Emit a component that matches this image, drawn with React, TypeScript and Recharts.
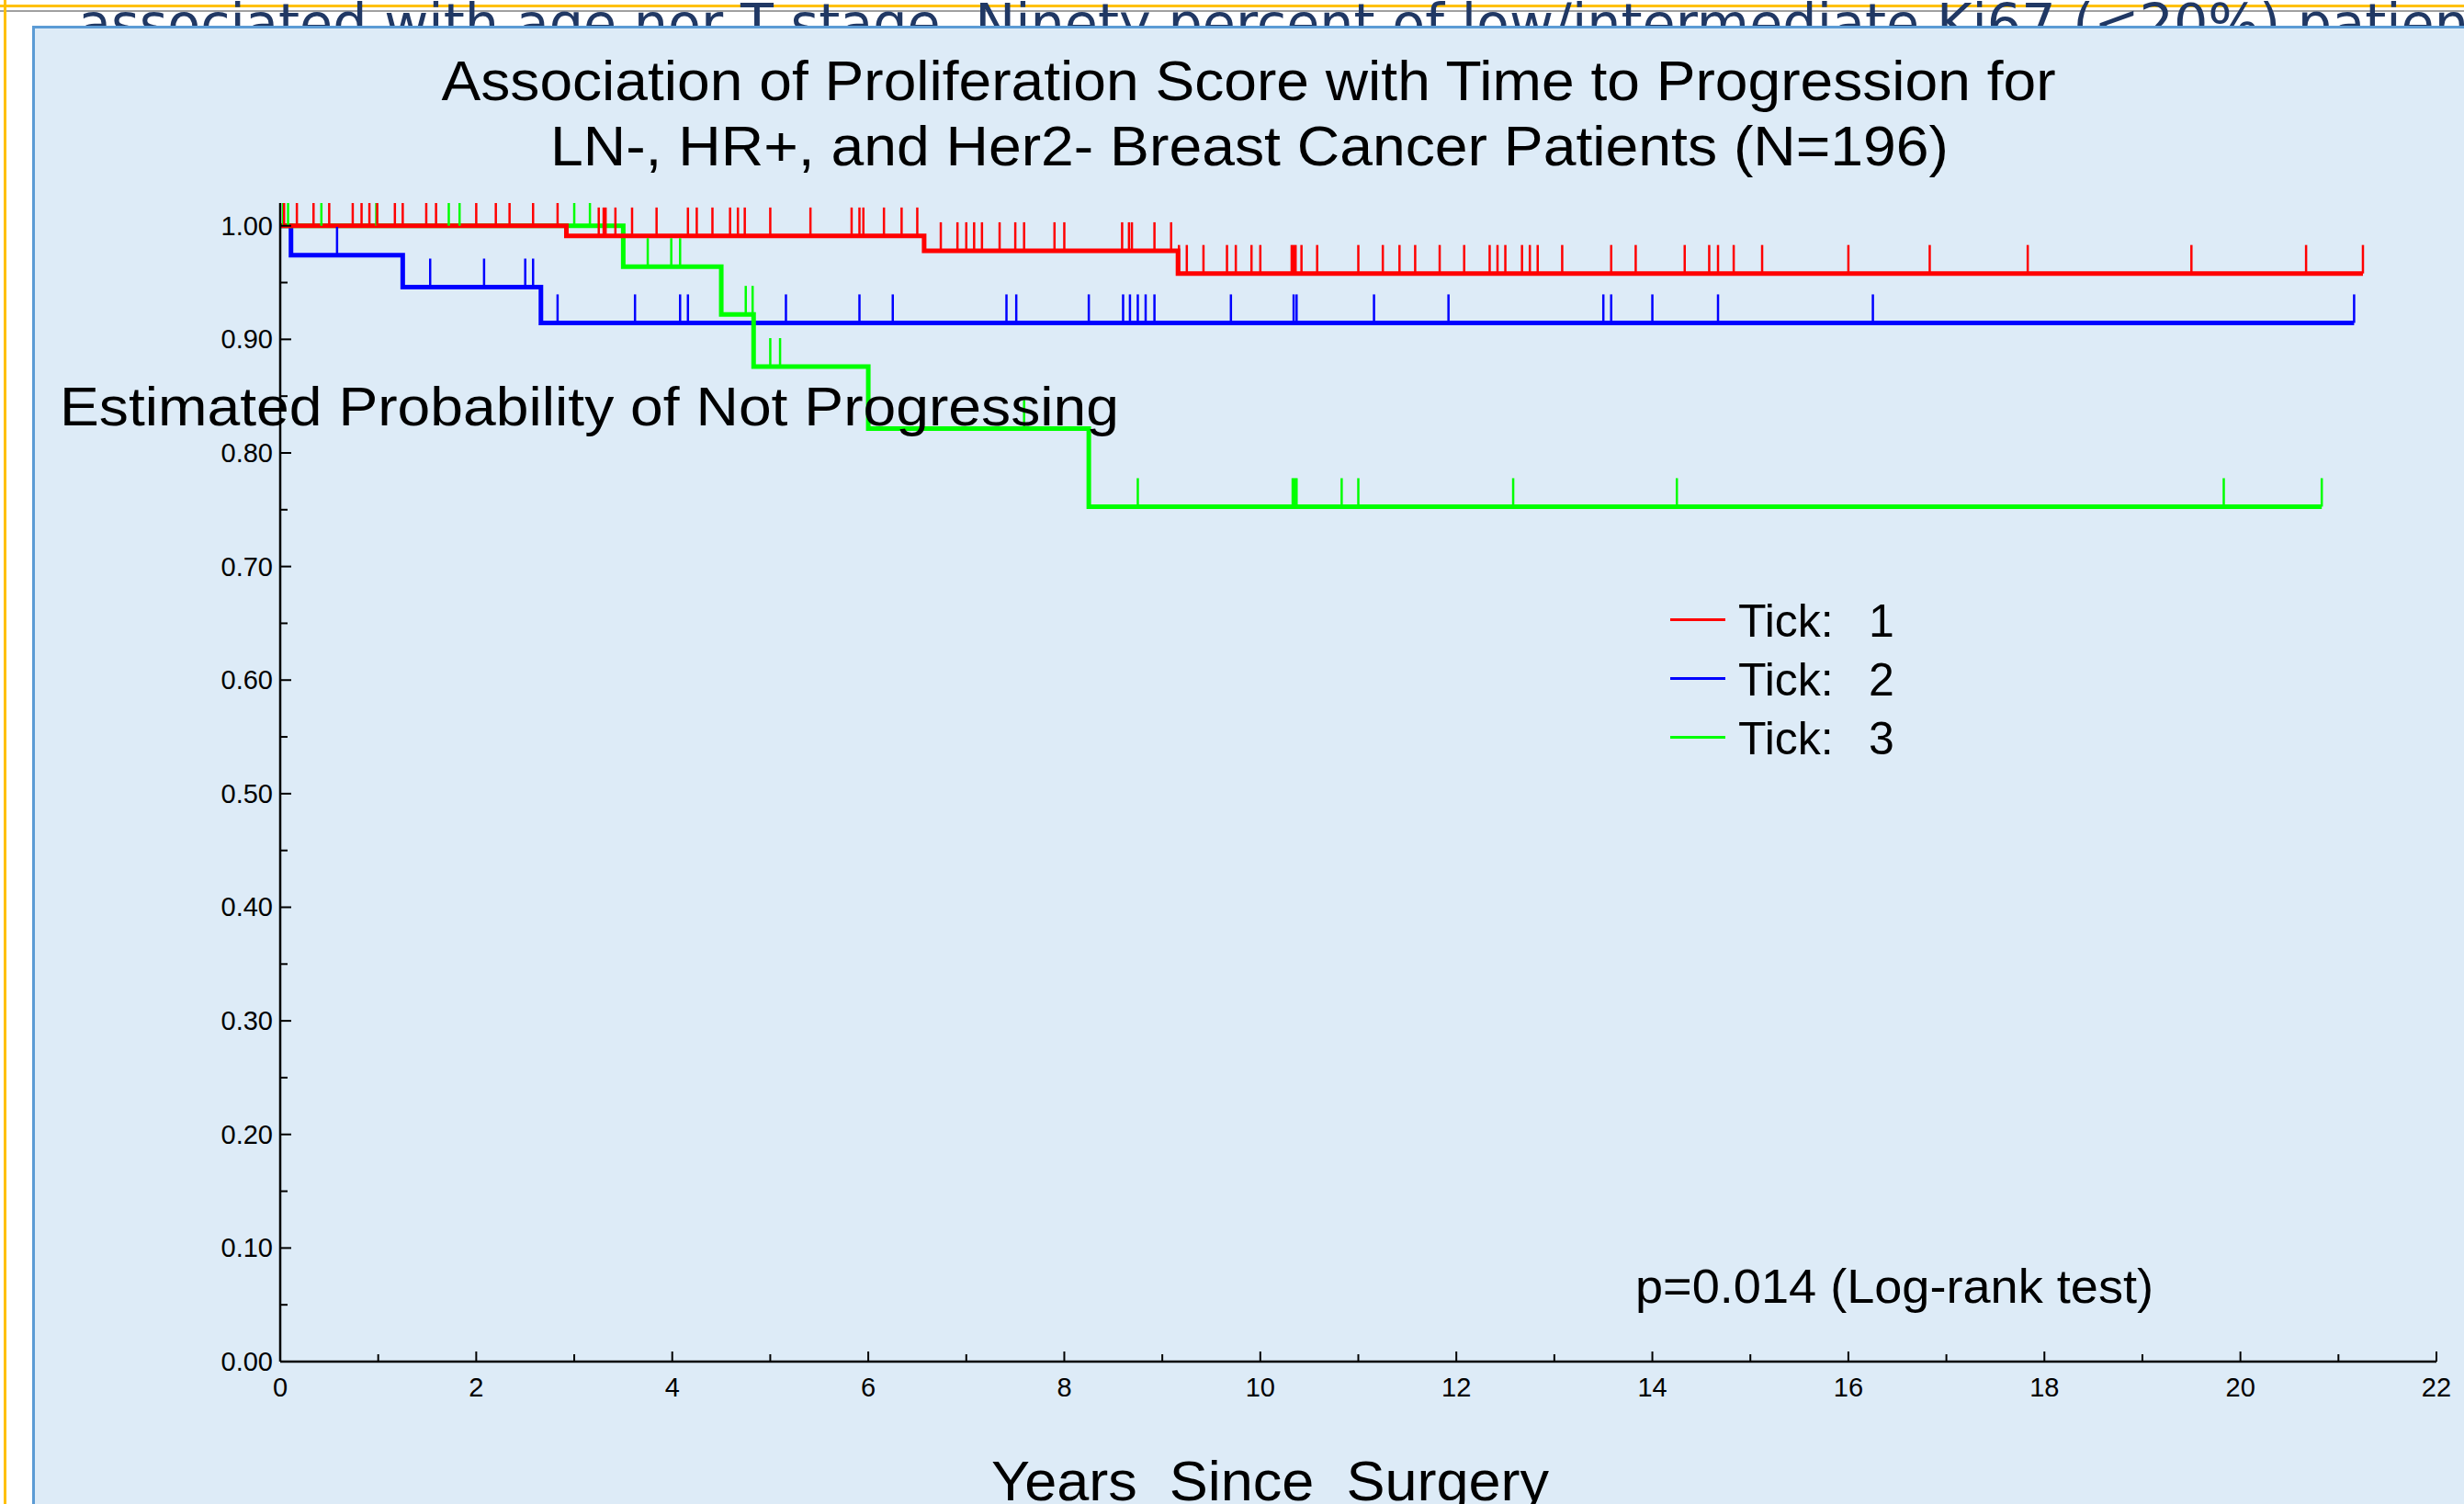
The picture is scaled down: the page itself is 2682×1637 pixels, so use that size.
import React from 'react'
import { ComposedChart, Line, Scatter, XAxis, YAxis, Legend } from 'recharts'

const W = 2682
const H = 1637
const FONT = "'Liberation Sans', Arial, Helvetica, sans-serif"

// Kaplan-Meier steps: time (years) where the estimate changes, and the new estimate
const TICK1_TIMES = [0, 2.92, 6.57, 9.16, 21.25]
const TICK1_SURV = [1, 0.991, 0.978, 0.958, 0.958]
const TICK2_TIMES = [0, 0.11, 1.25, 2.66, 21.16]
const TICK2_SURV = [1, 0.974, 0.946, 0.9145, 0.9145]
const TICK3_TIMES = [0, 3.5, 4.5, 4.83, 6.0, 8.25, 20.83]
const TICK3_SURV = [1, 0.964, 0.922, 0.876, 0.8215, 0.7527, 0.7527]

// censored observations (years)
const TICK1_CENSOR = [0.04, 0.17, 0.34, 0.5, 0.74, 0.83, 0.91, 0.99, 1.17, 1.25, 1.49, 1.59, 2.0, 2.2, 2.34, 2.58, 2.83,
    3.25, 3.3, 3.32, 3.42, 3.59, 3.84, 4.16, 4.25, 4.41, 4.59, 4.67, 4.74, 5.0, 5.41, 5.83, 5.91, 5.95, 6.16, 6.34, 6.5,
    6.74, 6.91, 7.0, 7.08, 7.16, 7.34, 7.5, 7.59, 7.9, 8.0, 8.59, 8.66, 8.69, 8.92, 9.09,
    9.17, 9.25, 9.42, 9.66, 9.75, 9.91, 10.0, 10.32, 10.34, 10.36, 10.42, 10.58, 11.0, 11.25, 11.42, 11.58, 11.83,
    12.08, 12.34, 12.42, 12.5, 12.67, 12.75, 12.83, 13.08, 13.58, 13.83, 14.33, 14.58, 14.67, 14.83, 15.12, 16.0,
    16.83, 17.83, 19.5, 20.67, 21.25]
const TICK2_CENSOR = [0.58, 1.53, 2.08, 2.5, 2.58, 2.83, 3.62, 4.08, 4.16, 5.16, 5.91, 6.25, 7.41, 7.51, 8.25, 8.6,
    8.67, 8.75, 8.83, 8.92, 9.7, 10.34, 10.37, 11.16, 11.92, 13.5, 13.58, 14.0, 14.67, 16.25, 21.16]
const TICK3_CENSOR = [0.03, 0.08, 0.42, 0.98, 1.72, 1.83, 3.0, 3.16, 3.75, 3.99, 4.08, 4.75, 4.82, 5.0, 5.1, 7.59,
    8.75, 10.33, 10.35, 10.37, 10.83, 11.0, 12.58, 14.25, 19.83, 20.83]

const X_TICKS = [0, 1, 2, 3, 4, 5, 6, 7, 8, 9, 10, 11, 12, 13, 14, 15, 16, 17, 18, 19, 20, 21, 22]
const Y_TICKS = [0, 0.05, 0.1, 0.15, 0.2, 0.25, 0.3, 0.35, 0.4, 0.45, 0.5, 0.55, 0.6, 0.65, 0.7, 0.75, 0.8, 0.85,
    0.9, 0.95, 1.0]

const toSteps = (times: number[], surv: number[]) => times.map((t, i) => ({ t, s: surv[i] }))

// estimate in force at time t
const survAt = (times: number[], surv: number[], t: number) => {
    let s = surv[0]
    times.forEach((tt, i) => {
        if (tt <= t) s = surv[i]
    })
    return s
}

const toCensor = (times: number[], surv: number[], cens: number[]) =>
    cens.map(t => ({ t, s: survAt(times, surv, t) }))

const SERIES = [
    { label: '1', color: '#ff0000', steps: toSteps(TICK1_TIMES, TICK1_SURV), censor: toCensor(TICK1_TIMES, TICK1_SURV, TICK1_CENSOR) },
    { label: '2', color: '#0000ff', steps: toSteps(TICK2_TIMES, TICK2_SURV), censor: toCensor(TICK2_TIMES, TICK2_SURV, TICK2_CENSOR) },
    { label: '3', color: '#00ff00', steps: toSteps(TICK3_TIMES, TICK3_SURV), censor: toCensor(TICK3_TIMES, TICK3_SURV, TICK3_CENSOR) },
]
// drawing order: red on top
const DRAW_ORDER = [1, 2, 0]

const XTick = (props: any) => {
    const { x, y, payload } = props
    const major = payload.value % 2 === 0
    return (
        <g>
            <line x1={x} x2={x} y1={y} y2={y - (major ? 11 : 8)} stroke="#000" strokeWidth={2} />
            {major && (
                <text x={x} y={y + 38} textAnchor="middle" fontSize={29} fontFamily={FONT} fill="#000">
                    {payload.value}
                </text>
            )}
        </g>
    )
}

const YTick = (props: any) => {
    const { x, y, payload } = props
    const major = Math.round(payload.value * 100) % 10 === 0
    return (
        <g>
            <line x1={x} x2={x + (major ? 12 : 8)} y1={y} y2={y} stroke="#000" strokeWidth={2} />
            {major && (
                <text x={x - 8} y={y + 10} textAnchor="end" fontSize={29} fontFamily={FONT} fill="#000">
                    {payload.value.toFixed(2)}
                </text>
            )}
        </g>
    )
}

const censorShape = (color: string) => (props: any) => {
    const { cx, cy } = props
    return <line x1={cx} x2={cx} y1={cy} y2={cy - 31} stroke={color} strokeWidth={2.5} />
}

const LegendBox = () => (
    <div style={{ fontFamily: FONT, fontSize: 50, color: '#000' }}>
        {SERIES.map(s => (
            <div key={s.label} style={{ position: 'relative', height: 64 }}>
                <div style={{ position: 'absolute', left: 0, top: 29, width: 60, height: 3, background: s.color }} />
                <span style={{ position: 'absolute', left: 74, top: 0, lineHeight: '64px' }}>Tick:</span>
                <span style={{ position: 'absolute', left: 216, top: 0, lineHeight: '64px' }}>{s.label}</span>
            </div>
        ))}
    </div>
)

export default function App() {
    return (
        <div style={{ position: 'absolute', left: 0, top: 0, width: W, height: H, overflow: 'hidden', background: '#fff' }}>
            {/* slide context behind the chart panel */}
            <svg width={W} height={H} style={{ position: 'absolute', left: 0, top: 0 }}>
                <rect x={0} y={5} width={W} height={3} fill="#ffc000" />
                <rect x={0} y={11} width={W} height={2} fill="#a0a0a0" />
                <rect x={4} y={0} width={3} height={H} fill="#ffc000" />
                <text x={85} y={46} fontSize={58.8} fontFamily="'DejaVu Sans', Verdana, sans-serif" fill="#203864">
                    associated with age nor T stage. Ninety percent of low/intermediate Ki67 (&lt;20%) patients
                </text>
            </svg>
            <div style={{
                position: 'absolute', left: 35, top: 28, right: 0, bottom: 0,
                background: '#ddebf7', borderLeft: '3px solid #5b9bd5', borderTop: '3px solid #5b9bd5',
            }} />
            <div style={{ position: 'absolute', left: 0, top: 0 }}>
                <ComposedChart width={W} height={H} margin={{ top: 221, right: 30, bottom: 95, left: 225 }}>
                    <XAxis
                        dataKey="t"
                        type="number"
                        domain={[0, 22]}
                        ticks={X_TICKS}
                        interval={0}
                        tick={<XTick />}
                        tickLine={false}
                        tickSize={0}
                        tickMargin={0}
                        height={60}
                        allowDataOverflow
                        axisLine={{ stroke: '#000', strokeWidth: 2.5 }}
                    />
                    <YAxis
                        type="number"
                        domain={[0, 1.02]}
                        ticks={Y_TICKS}
                        interval={0}
                        tick={<YTick />}
                        tickLine={false}
                        tickSize={0}
                        tickMargin={0}
                        width={80}
                        allowDataOverflow
                        axisLine={{ stroke: '#000', strokeWidth: 2.5 }}
                    />
                    {DRAW_ORDER.map(i => (
                        <Line
                            key={`line-${i}`}
                            data={SERIES[i].steps}
                            dataKey="s"
                            type="stepAfter"
                            stroke={SERIES[i].color}
                            strokeWidth={5}
                            dot={false}
                            activeDot={false}
                            isAnimationActive={false}
                        />
                    ))}
                    {DRAW_ORDER.map(i => (
                        <Scatter
                            key={`cens-${i}`}
                            data={SERIES[i].censor}
                            dataKey="s"
                            shape={censorShape(SERIES[i].color)}
                            legendType="none"
                            isAnimationActive={false}
                        />
                    ))}
                    <Legend
                        layout="horizontal"
                        verticalAlign="middle"
                        align="center"
                        content={<LegendBox />}
                        wrapperStyle={{ left: 1818, top: 644, width: 320, height: 200 }}
                    />
                </ComposedChart>
            </div>
            {/* titles and annotations */}
            <svg width={W} height={H} style={{ position: 'absolute', left: 0, top: 0, pointerEvents: 'none' }}
                fontFamily={FONT} fill="#000">
                <text x={1359} y={109} fontSize={62} textAnchor="middle" textLength={1757} lengthAdjust="spacingAndGlyphs">
                    Association of Proliferation Score with Time to Progression for
                </text>
                <text x={1360} y={180} fontSize={62} textAnchor="middle" textLength={1522} lengthAdjust="spacingAndGlyphs">
                    LN-, HR+, and Her2- Breast Cancer Patients (N=196)
                </text>
                <text x={65} y={463} fontSize={60} textLength={1153} lengthAdjust="spacingAndGlyphs">
                    Estimated Probability of Not Progressing
                </text>
                <text x={1780} y={1418} fontSize={52} textLength={564} lengthAdjust="spacingAndGlyphs">
                    p=0.014 (Log-rank test)
                </text>
                <text x={1079} y={1633} fontSize={62} textLength={607} lengthAdjust="spacingAndGlyphs"
                    style={{ whiteSpace: 'pre' }}>
                    {'Years  Since  Surgery'}
                </text>
            </svg>
        </div>
    )
}
